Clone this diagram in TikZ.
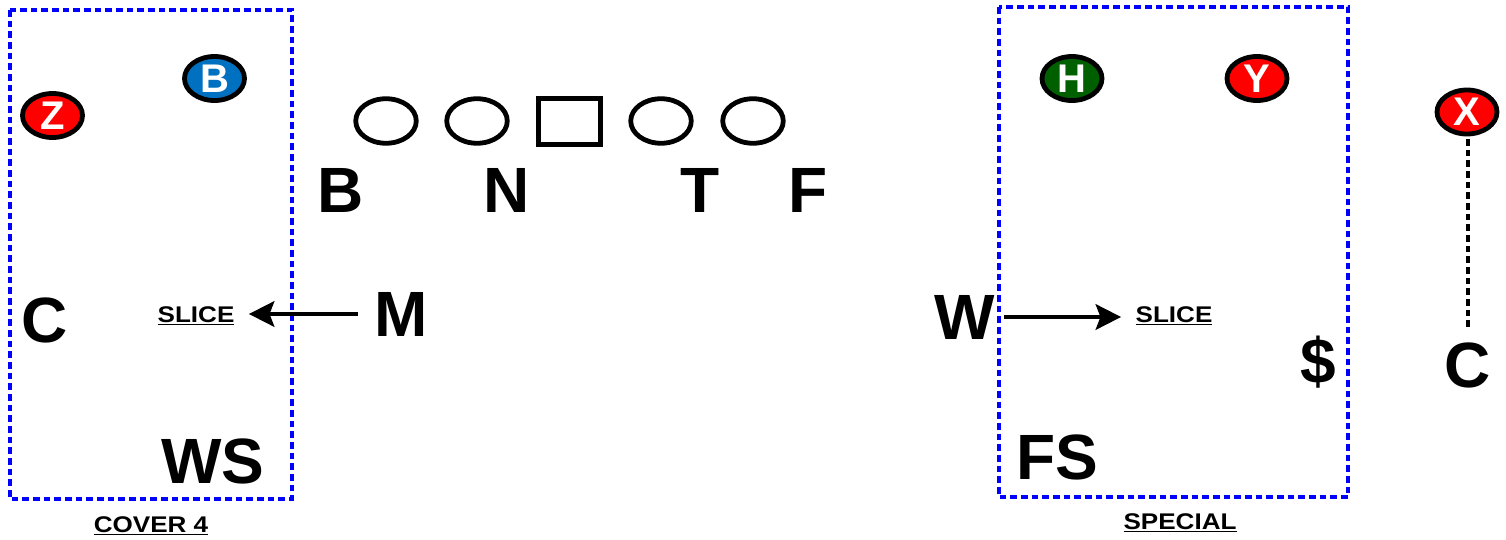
\documentclass[tikz,border=0pt]{standalone}
\usepackage{fontspec}
\setmainfont{Liberation Sans}
\newfontfamily\widefont[FakeStretch=1.15]{Liberation Sans}
\usetikzlibrary{arrows.meta,shapes.geometric}

\definecolor{zonered}{RGB}{255,0,0}
\definecolor{zoneblue}{RGB}{0,112,192}
\definecolor{zonegreen}{RGB}{0,96,0}
\definecolor{zoneline}{RGB}{0,0,255}

\newcommand{\callul}[1]{\underline{#1}}

\tikzset{every picture/.style={line width=0.75pt}}
\tikzset{
  player/.style={ellipse, draw=black, line width=3.6pt, minimum width=45pt, minimum height=33pt, inner sep=0pt, text=white, font=\bfseries\fontsize{30}{30}\selectfont},
  lineman/.style={ellipse, draw=black, line width=3.6pt, minimum width=45.4pt, minimum height=33.4pt, inner sep=0pt},
  center/.style={rectangle, draw=black, line width=3.8pt, minimum width=46pt, minimum height=34pt, inner sep=0pt},
  defender/.style={inner sep=0pt, font=\bfseries\fontsize{48}{48}\selectfont},
  calltext/.style={inner sep=0pt, font=\widefont\bfseries\fontsize{17}{17}\selectfont},
  zonebox/.style={draw=zoneline, line width=2.3pt, dash pattern=on 5pt off 3pt},
  runarrow/.style={line width=3.4pt, -{Stealth[length=19pt, width=19pt, inset=3.5pt]}},
}

\begin{document}
\begin{tikzpicture}[x=0.75pt,y=0.75pt,yscale=-1,xscale=1]
\useasboundingbox (0,0) rectangle (1506,539);

% Zones
\draw [zonebox] (10,10) rectangle (292,499);
\draw [zonebox] (999,7) rectangle (1348,497);

% Offense
\node [player, fill=zonered] (Z) at (52.5,115.5) {Z};
\node [player, fill=zoneblue] (Bk) at (214.5,78.5) {B};
\node [player, fill=zonegreen] (H) at (1072,78.5) {H};
\node [player, fill=zonered] (Y) at (1257,78.5) {Y};
\node [player, fill=zonered] (X) at (1467,112) {X};

% Offensive line
\node [lineman] (LT) at (386,121) {};
\node [lineman] (LG) at (477,121) {};
\node [center] (OC) at (569.5,121.5) {};
\node [lineman] (RG) at (661,121) {};
\node [lineman] (RT) at (753,121) {};

% Defense
\node [defender] (Bd) at (341,190) {B};
\node [defender] (N) at (507,190) {N};
\node [defender] (T) at (700,190) {T};
\node [defender] (F) at (808,190) {F};
\node [defender] (Cl) at (45,320) {C};
\node [defender] (M) at (401,314) {M};
\node [defender] (W) at (965,317) {W};
\node [defender] (Dol) at (1318,362) {\$};
\node [defender] (Cr) at (1468,365) {C};
\node [defender] (WS) at (213,461) {WS};
\node [defender] (FS) at (1057,457) {FS};

% Text Node
\node [calltext] (sliceL) at (196,316) {\callul{SLICE}};
\node [calltext] (sliceR) at (1174,316) {\callul{SLICE}};
\node [calltext] (cover) at (151,526) {\callul{COVER 4}};
\node [calltext] (special) at (1180,523) {\callul{SPECIAL}};

% Connection
\draw [runarrow, shorten <=12pt, shorten >=10.5pt] (M.west) -- (sliceL.east |- M.west);
\draw [runarrow, shorten <=6pt, shorten >=10.5pt] (W.east) -- (sliceR.west |- W.east);
\draw [line width=2.3pt, dash pattern=on 5pt off 3pt, shorten <=2pt, shorten >=11pt] (X.south -| Cr.north) -- (Cr.north);

\end{tikzpicture}
\end{document}
